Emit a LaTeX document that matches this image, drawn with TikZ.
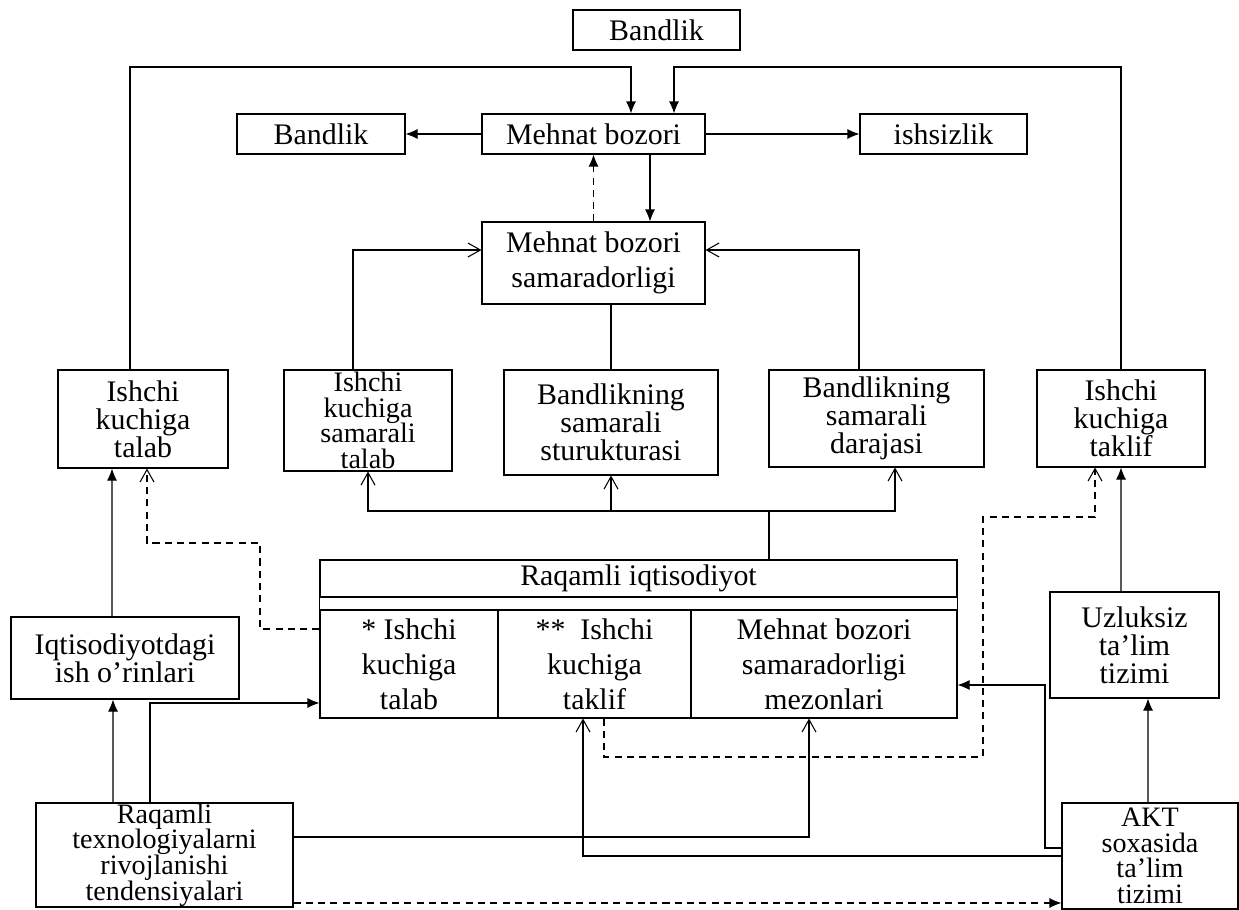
\documentclass[tikz,border=0pt]{standalone}
\usepackage{fontspec}
\setmainfont{Liberation Serif}
\usetikzlibrary{arrows.meta}
\begin{document}
\begin{tikzpicture}[x=0.02cm,y=-0.02cm,>={Latex[length=2.4mm,width=2mm]},
	box/.style={draw, line width=0.6pt, align=center, inner sep=0pt, font=\fontsize{17}{16}\selectfont},
	four/.style={font=\fontsize{16}{14.6}\selectfont},
	wide/.style={font=\fontsize{17}{20}\selectfont},
	sz/.style 2 args={minimum width=#1*0.02cm, minimum height=#2*0.02cm},
	ln/.style={line width=0.6pt},
	arr/.style={ln, ->},
	arro/.style={ln, -{Straight Barb[length=2.5mm,width=2.8mm]}},
	dsh/.style={dash pattern=on 4pt off 3pt}]
	\useasboundingbox (0,0) rectangle (1239,909);
	\node[box, sz={167}{40}] (bandTop) at (656.5,30) {Bandlik};
	\node[box, sz={168}{40}] (bandL) at (321,134) {Bandlik};
	\node[box, sz={223}{40}] (mb) at (593.5,134) {Mehnat bozori};
	\node[box, sz={167}{40}] (ishs) at (943.5,134) {ishsizlik};
	\node[box, wide, sz={223}{82}] (mbs) at (593.5,263) {Mehnat bozori\\samaradorligi};
	\node[box, sz={170}{98}] (ikt) at (143,419) {Ishchi\\kuchiga\\talab};
	\node[box, four, sz={168}{101}] (iks) at (368,420.5) {Ishchi\\kuchiga\\samarali\\talab};
	\node[box, sz={214}{105}] (bss) at (611,422.5) {Bandlikning\\samarali\\sturukturasi};
	\node[box, sz={215}{97}] (bsd) at (876.5,418.5) {Bandlikning\\samarali\\darajasi};
	\node[box, sz={168}{97}] (ikta) at (1121,418.5) {Ishchi\\kuchiga\\taklif};
	\node[box, sz={637}{37}] (rq) at (638.5,578.5) {Raqamli iqtisodiyot};
	\node[box, wide, sz={178}{108}] (c1) at (409,664) {* Ishchi\\kuchiga\\talab};
	\node[box, wide, sz={193}{108}] (c2) at (594.5,664) {**\ \ Ishchi\\kuchiga\\taklif};
	\node[box, wide, sz={266}{108}] (c3) at (824,664) {Mehnat bozori\\samaradorligi\\mezonlari};
	\draw[ln] (rq.south west) rectangle (c3.north east);
	\node[box, sz={228}{82}] (ish) at (125,658) {Iqtisodiyotdagi\\ish o’rinlari};
	\node[box, sz={169}{106}] (uzl) at (1134.5,645) {Uzluksiz\\ta’lim\\tizimi};
	\node[box, four, sz={257}{104}] (rtt) at (164.5,855) {Raqamli\\texnologiyalarni\\rivojlanishi\\tendensiyalari};
	\node[box, four, sz={176}{106}] (akt) at (1150,856) {AKT\\soxasida\\ta’lim\\tizimi};
	\coordinate (tl) at (631,67);
	\coordinate (tr) at (674,67);
	\coordinate (hub) at (769,511);
	\coordinate (d1) at (260,543);
	\coordinate (d2) at (983,757);
	\coordinate (d3) at (983,517);
	\coordinate (k1) at (1045,685);
	\draw[arr] ([xshift=-0.26cm]ikt.north) |- (tl) -- (tl |- mb.north);
	\draw[arr] (ikta.north) |- (tr) -- (tr |- mb.north);
	\draw[arr] (mb.west) -- (bandL.east);
	\draw[arr] (mb.east) -- (ishs.west);
	\draw[arr] ([xshift=1.13cm]mb.south) -- ([xshift=1.13cm]mbs.north);
	\draw[arr, dsh] (mbs.north) -- (mb.south);
	\draw[arro] ([xshift=-0.3cm]iks.north) |- ([yshift=0.26cm]mbs.west);
	\draw[arro] ([xshift=-0.35cm]bsd.north) |- ([yshift=0.26cm]mbs.east);
	\draw[ln] (bss.north) -- (bss.north |- mbs.south);
	\draw[ln] (rq.north -| hub) -- (hub);
	\draw[arro] (hub) -| (iks.south);
	\draw[arro] (hub) -| ([xshift=0.37cm]bsd.south);
	\draw[arro] (bss.south |- hub) -- (bss.south);
	\draw[arr] ([xshift=-0.26cm]ish.north) -- ([xshift=-0.62cm]ikt.south);
	\draw[arro, dsh] ([yshift=0.7cm]c1.west) -| (d1) -| ([xshift=0.08cm]ikt.south);
	\draw[arr] ([xshift=-1.03cm]rtt.north) -- ([xshift=-0.24cm]ish.south);
	\draw[arr] ([xshift=-0.29cm]rtt.north) |- ([yshift=-0.78cm]c1.west);
	\draw[arro] ([yshift=0.36cm]rtt.east) -| ([xshift=-0.3cm]c3.south);
	\draw[arro] (akt.west) -| ([xshift=-0.23cm]c2.south);
	\draw[arr] ([yshift=0.16cm]akt.west) -| (k1) -- (k1 -| c3.east);
	\draw[arro, dsh] ([xshift=0.19cm]c2.south) |- (d2) -- (d3) -| ([xshift=-0.52cm]ikta.south);
	\draw[arr] ([xshift=-0.27cm]uzl.north) -- (ikta.south);
	\draw[arr] ([xshift=-0.04cm]akt.north) -- ([xshift=0.27cm]uzl.south);
	\draw[arr, dsh] ([yshift=-0.96cm]rtt.east) -- ([yshift=-0.96cm]rtt.east -| akt.west);
\end{tikzpicture}
\end{document}
